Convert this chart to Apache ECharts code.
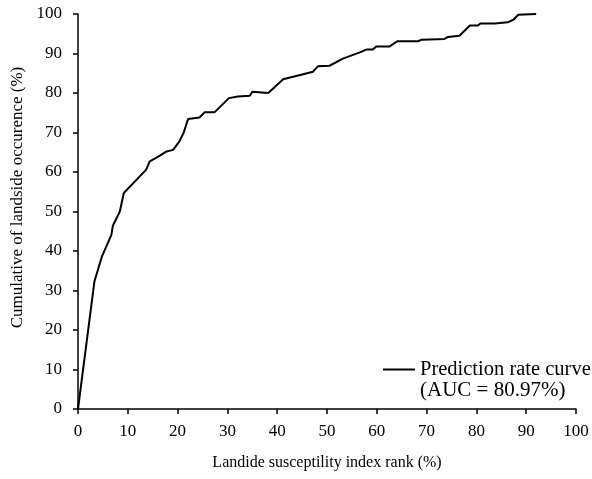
<!DOCTYPE html>
<html>
<head>
<meta charset="utf-8">
<script src="https://cdn.jsdelivr.net/npm/echarts@6/dist/echarts.min.js"></script>
<style>
html,body{margin:0;padding:0;background:#fff;}
#chart{width:592px;height:479px;}
</style>
</head>
<body>
<div id="chart"></div>
<script>
// 曲线数据
var rankX = [0, 3.3, 4.8, 6.7, 7.0, 8.4, 9.2, 13.7, 14.4, 16.1, 17.8, 19.1, 20.4, 21.2, 22.1, 24.4, 25.4, 27.4, 30.3, 32.1, 34.5, 35.0, 38.2, 41.2, 47.2, 48.2, 50.5, 53.2, 56.6, 57.9, 59.2, 59.9, 62.6, 64.1, 68.3, 69.0, 73.6, 74.3, 76.6, 78.7, 80.3, 80.8, 83.7, 84.0, 86.3, 87.5, 88.4, 92.0];
var cumY = [0, 32.3, 38.6, 44.1, 46.4, 50.0, 54.7, 60.6, 62.7, 63.9, 65.2, 65.6, 67.8, 69.9, 73.4, 73.8, 75.1, 75.1, 78.7, 79.1, 79.3, 80.3, 80.0, 83.5, 85.4, 86.8, 86.9, 88.7, 90.3, 91.0, 91.0, 91.8, 91.8, 93.1, 93.1, 93.5, 93.7, 94.2, 94.5, 97.1, 97.1, 97.6, 97.6, 97.7, 97.9, 98.6, 99.8, 100];
var seriesName = "Prediction rate curve";
var aucText = "(AUC = 80.97%)";

var rateChart = {
	font: "Liberation Serif",
	init: function () {
		var myChart = echarts.init(document.getElementById('chart'));
		var pts = [];
		for (var i = 0; i < rankX.length; i++) {
			pts.push([rankX[i], cumY[i]]);
		}
		var axisCommon = {
			min: 0, max: 100, interval: 10,
			axisLine: {show: true, lineStyle: {color: '#000', width: 1.5}},
			axisTick: {show: true, inside: false, length: 5, lineStyle: {color: '#000', width: 1.5}},
			axisLabel: {color: '#000', fontFamily: rateChart.font, fontSize: 17},
			splitLine: {show: false}
		};
		var option = {
			animation: false,
			backgroundColor: '#fff',
			grid: {left: 78, right: 16, top: 14, bottom: 70},
			xAxis: echarts.util.merge({
				type: 'value',
				name: 'Landide susceptility index rank (%)',
				nameLocation: 'middle',
				nameGap: 46,
				nameTextStyle: {color: '#000', fontFamily: rateChart.font, fontSize: 16},
				axisLabel: {margin: 14}
			}, axisCommon),
			yAxis: echarts.util.merge({
				type: 'value',
				name: 'Cumulative of landside occurence (%)',
				nameLocation: 'middle',
				nameGap: 50,
				nameTextStyle: {color: '#000', fontFamily: rateChart.font, fontSize: 17, padding: [0, 0, 0, 28]},
				axisLabel: {margin: 16}
			}, axisCommon),
			legend: {
				data: [seriesName],
				left: 383, top: 359,
				padding: 0,
				itemWidth: 32, itemHeight: 2, itemGap: 0,
				icon: 'rect',
				textStyle: {color: '#000', fontFamily: rateChart.font, fontSize: 20.5}
			},
			graphic: [{
				type: 'text',
				left: 420, top: 380,
				style: {text: aucText, fill: '#000', font: '21px "Liberation Serif"'}
			}],
			series: [{
				name: seriesName,
				type: 'line',
				data: pts,
				symbol: 'none',
				lineStyle: {color: '#000', width: 2},
				itemStyle: {color: '#000'}
			}]
		};
		myChart.setOption(option);
	}
};
rateChart.init();
</script>
</body>
</html>
